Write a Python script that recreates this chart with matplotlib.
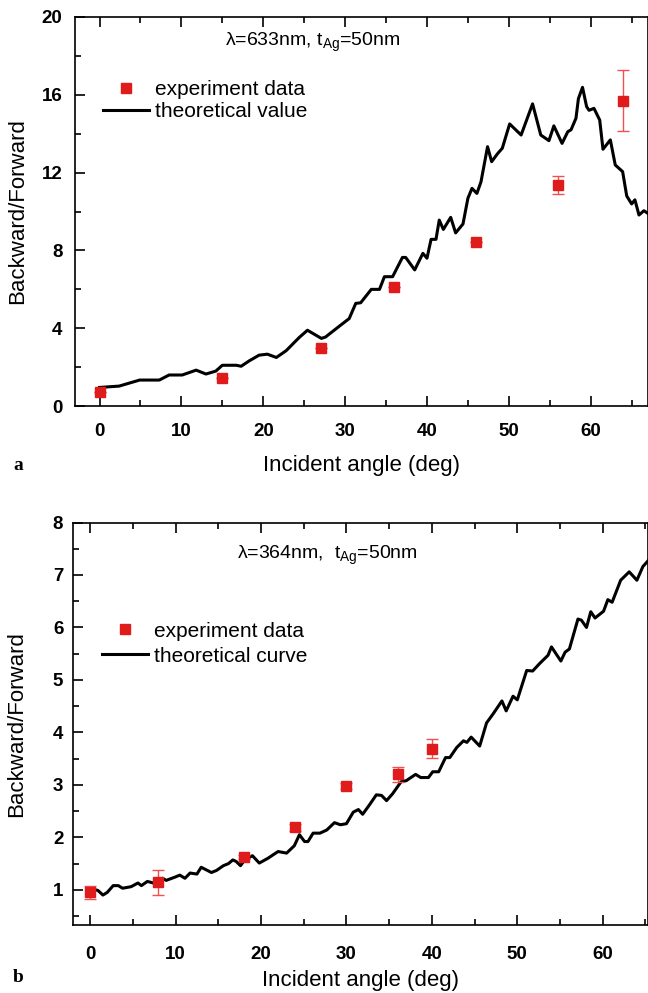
import matplotlib
matplotlib.use("Agg")
import matplotlib.pyplot as plt
from matplotlib.lines import Line2D
from matplotlib.ticker import MultipleLocator

plt.rcParams['font.family'] = ['Liberation Sans', 'DejaVu Sans']

# --- panel a: lambda = 633 nm ---
theory_a_x = [0, 2.4, 4.9, 7.3, 8.5, 10.1, 11.8, 13.0, 14.2, 15.0, 16.7, 17.3, 18.3, 19.5,
              20.5, 21.6, 22.8, 24.4, 25.4, 27.1, 27.6, 29.3, 30.5, 31.3, 31.9, 33.2, 34.2,
              34.8, 35.8, 37.0, 37.4, 38.5, 39.5, 40.0, 40.5, 41.1, 41.5, 42.0, 42.9, 43.5,
              44.4, 45.0, 45.5, 46.1, 46.6, 47.4, 47.9, 48.6, 49.2, 50.1, 51.5, 52.9, 53.9,
              54.9, 55.5, 56.5, 57.2, 57.6, 58.2, 58.5, 59.0, 59.5, 59.8, 60.4, 61.1, 61.5,
              62.4, 63.0, 63.9, 64.4, 65.0, 65.4, 65.9, 66.5, 67.0]
theory_a_y = [0.96, 1.03, 1.34, 1.34, 1.6, 1.6, 1.85, 1.65, 1.8, 2.1, 2.1, 2.05, 2.33, 2.62,
              2.67, 2.5, 2.85, 3.53, 3.9, 3.48, 3.55, 4.11, 4.5, 5.28, 5.31, 6.0, 6.0,
              6.65, 6.65, 7.64, 7.64, 7.0, 7.85, 7.6, 8.57, 8.57, 9.56, 9.08, 9.7, 8.9,
              9.36, 10.68, 11.19, 10.93, 11.53, 13.33, 12.56, 12.96, 13.25, 14.5, 13.93, 15.53, 13.93,
              13.64, 14.4, 13.5, 14.1, 14.2, 14.79, 15.8, 16.38, 15.39, 15.2, 15.3, 14.7, 13.2,
              13.68, 12.39, 12.05, 10.8, 10.39, 10.6, 9.82, 10.04, 9.9]
exp_a_x = [0, 15, 27, 36, 46, 56, 64]
exp_a_y = [0.75, 1.45, 3.0, 6.1, 8.45, 11.35, 15.7]
exp_a_err = [0, 0, 0, 0, 0, 0.47, 1.57]

# --- panel b: lambda = 364 nm ---
theory_b_x = [0, 0.6, 0.9, 1.5, 2.0, 2.7, 3.3, 3.8, 4.8, 5.6, 6.0, 6.7, 7.4, 7.9, 8.5, 8.9,
              9.9, 10.5, 11.1, 11.7, 12.5, 13.0, 13.6, 14.2, 14.8, 15.6, 16.2, 16.7, 17.1,
              17.6, 18.1, 19.0, 19.8, 20.8, 22.0, 23.0, 23.9, 24.5, 25.1, 25.5, 26.1, 26.9,
              27.7, 28.6, 29.3, 30.0, 30.8, 31.4, 31.9, 32.7, 33.5, 34.1, 34.7, 35.4, 36.4,
              37.0, 38.1, 38.7, 39.6, 40.1, 40.8, 41.6, 42.1, 42.9, 43.7, 44.1, 44.6, 45.6,
              46.4, 47.2, 48.2, 48.7, 49.5, 50.0, 51.1, 51.8, 52.6, 53.6, 54.0, 55.1, 55.6,
              56.1, 57.1, 57.5, 58.1, 58.6, 59.1, 60.1, 60.6, 61.1, 62.1, 63.1, 64.0, 64.7, 65.3]
theory_b_y = [1.0, 1.0, 0.99, 0.9, 0.95, 1.08, 1.08, 1.03, 1.06, 1.13, 1.08, 1.16, 1.13, 1.08,
              1.22, 1.18, 1.24, 1.28, 1.22, 1.32, 1.3, 1.43, 1.38, 1.33, 1.37, 1.46, 1.5, 1.57,
              1.54, 1.46, 1.57, 1.65, 1.51, 1.6, 1.73, 1.7, 1.84, 2.05, 1.92, 1.92, 2.08, 2.08,
              2.14, 2.28, 2.24, 2.26, 2.48, 2.53, 2.44, 2.62, 2.81, 2.8, 2.7, 2.83, 3.06,
              3.08, 3.2, 3.14, 3.14, 3.25, 3.25, 3.52, 3.52, 3.71, 3.84, 3.81, 3.91, 3.74,
              4.18, 4.36, 4.6, 4.41, 4.69, 4.62, 5.18, 5.17, 5.31, 5.47, 5.63, 5.36, 5.53,
              5.59, 6.16, 6.14, 6.0, 6.3, 6.18, 6.31, 6.53, 6.48, 6.9, 7.06, 6.9, 7.16, 7.27]
exp_b_x = [0, 8, 18, 24, 30, 36, 40]
exp_b_y = [0.95, 1.14, 1.62, 2.19, 2.98, 3.2, 3.69]
exp_b_err = [0.12, 0.24, 0.04, 0.07, 0.05, 0.15, 0.18]

red = '#e01b1b'

fig = plt.figure(figsize=(6.48, 9.93), dpi=100)
ax1 = fig.add_axes([0.1157, 0.591, 0.8843, 0.392])
ax2 = fig.add_axes([0.1127, 0.0685, 0.8873, 0.4053])


def style(ax, xlabel_pad, ylabel_x, xpad, ypad):
    ax.tick_params(which='both', direction='in', top=True, right=False, width=1.2)
    ax.tick_params(which='major', length=7)
    ax.tick_params(which='minor', length=4)
    ax.tick_params(axis='x', pad=xpad)
    ax.tick_params(axis='y', pad=ypad)
    ax.xaxis.set_major_locator(MultipleLocator(10))
    ax.xaxis.set_minor_locator(MultipleLocator(5))
    for lab in ax.get_xticklabels() + ax.get_yticklabels():
        lab.set_fontsize(13.5)
        lab.set_fontweight('bold')
    for s in ax.spines.values():
        s.set_linewidth(1.2)
    ax.set_xlabel('Incident angle (deg)', fontsize=16, labelpad=xlabel_pad)
    ax.set_ylabel('Backward/Forward', fontsize=16)
    ax.yaxis.set_label_coords(ylabel_x, 0.5)


# panel a
ax1.plot(theory_a_x, theory_a_y, color='black', lw=2.2, zorder=2)
ax1.errorbar(exp_a_x, exp_a_y, yerr=exp_a_err, fmt='s', color=red, ms=6.5,
             ecolor='#f05050', elinewidth=1.0, capsize=4, capthick=1.0, zorder=3)
ax1.set_xlim(-3, 67)
ax1.set_ylim(0, 20)
ax1.yaxis.set_major_locator(MultipleLocator(4))
ax1.yaxis.set_minor_locator(MultipleLocator(2))
style(ax1, 11, -0.082, 12, 9)
ax1.text(0.262, 0.936, 'λ=633nm, t$_{\\mathregular{Ag}}$=50nm', transform=ax1.transAxes,
         fontsize=14, va='center', ha='left')
h1 = [Line2D([], [], ls='none', marker='s', color=red, ms=6.5),
      Line2D([], [], color='black', lw=2.2)]
ax1.legend(h1, ['experiment data', 'theoretical value'], loc='center left',
           bbox_to_anchor=(0.049, 0.785), frameon=False, fontsize=15, borderpad=0,
           borderaxespad=0, handlelength=2.2, handletextpad=0.3, labelspacing=0.15)
fig.text(0.02, 1 - 465 / 993, 'a', family='Liberation Serif', fontweight='bold',
         fontsize=14, va='center')

# panel b
ax2.plot(theory_b_x, theory_b_y, color='black', lw=2.2, zorder=2)
ax2.errorbar(exp_b_x, exp_b_y, yerr=exp_b_err, fmt='s', color=red, ms=6.5,
             ecolor='#f05050', elinewidth=1.0, capsize=4, capthick=1.0, zorder=3)
ax2.set_xlim(-2, 65.3)
ax2.set_ylim(0.33, 8)
ax2.yaxis.set_major_locator(MultipleLocator(1))
ax2.yaxis.set_minor_locator(MultipleLocator(0.5))
style(ax2, 5, -0.080, 15, 7)
ax2.text(0.285, 0.919, 'λ=364nm,  t$_{\\mathregular{Ag}}$=50nm', transform=ax2.transAxes,
         fontsize=14, va='center', ha='left')
h2 = [Line2D([], [], ls='none', marker='s', color=red, ms=6.5),
      Line2D([], [], color='black', lw=2.2)]
ax2.legend(h2, ['experiment data', 'theoretical curve'], loc='center left',
           bbox_to_anchor=(0.05, 0.699), frameon=False, fontsize=15, borderpad=0,
           borderaxespad=0, handlelength=2.2, handletextpad=0.3, labelspacing=0.3)
fig.text(0.02, 1 - 978 / 993, 'b', family='Liberation Serif', fontweight='bold',
         fontsize=14, va='center')

fig.savefig('out.png', dpi=100)
